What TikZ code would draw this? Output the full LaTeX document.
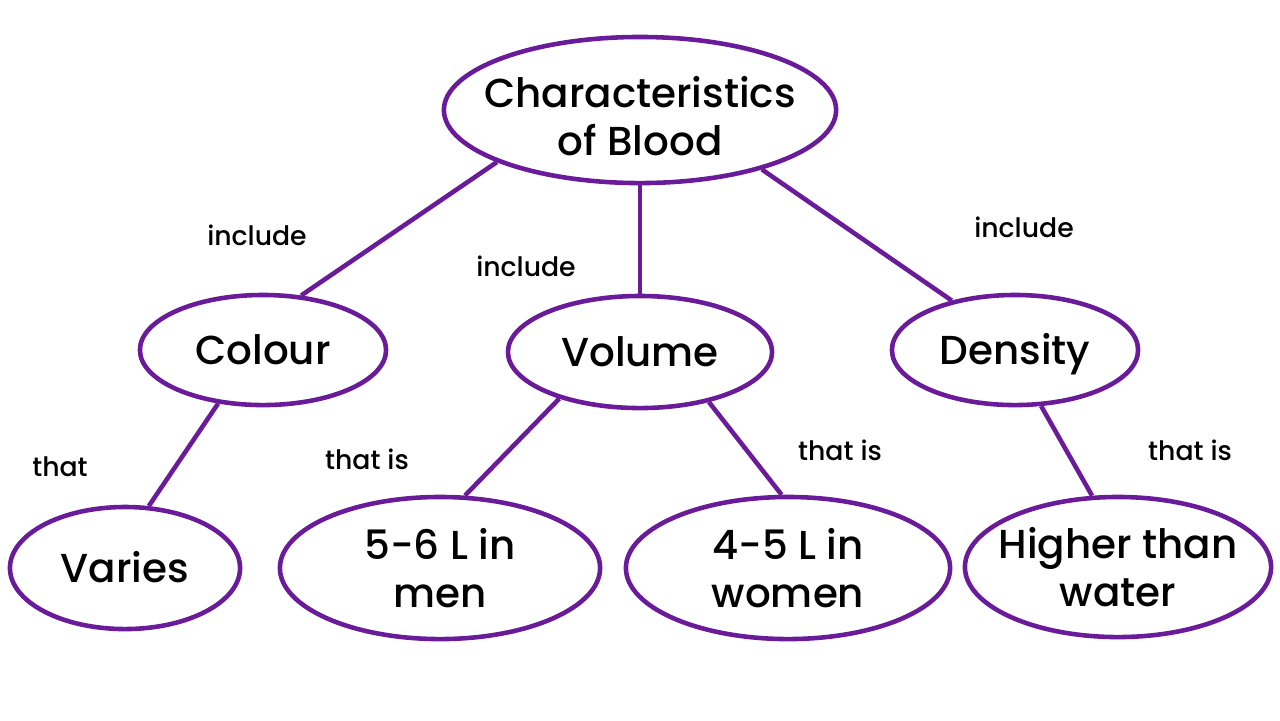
\documentclass[tikz,border=0pt]{standalone}
\usepackage{fontspec}
\setmainfont{Poppins}[BoldFont={Poppins Medium}]
\usetikzlibrary{shapes.geometric}
\definecolor{bloodpurple}{HTML}{6A1B9A}
\begin{document}
\begin{tikzpicture}[x=0.01cm, y=-0.01cm,
    blob/.style={draw=bloodpurple, line width=1.3pt, ellipse, inner sep=-1cm, align=center,
      font=\fontsize{11.5}{13.7}\selectfont\bfseries},
    oneline/.style={text height=8.1pt, text depth=0pt},
    link/.style={draw=bloodpurple, line width=1.3pt},
    word/.style={font=\fontsize{7.6}{9}\selectfont\bfseries}]
  \useasboundingbox[fill=white] (0, 0) rectangle (1280, 720);
  \node[blob, minimum width=3.92cm, minimum height=1.46cm] (blood) at (640, 110)
    {\raisebox{-1.8pt}[\height][\depth]{Characteristics}\\\raisebox{-1.8pt}[\height][\depth]{of Blood}};
  \node[blob, oneline, minimum width=2.46cm, minimum height=1.10cm] (colour) at (263, 350) {Colour};
  \node[blob, oneline, minimum width=2.64cm, minimum height=1.12cm] (volume) at (640, 352) {Volume};
  \node[blob, oneline, minimum width=2.46cm, minimum height=1.10cm] (density) at (1015, 350) {Density};
  \node[blob, oneline, minimum width=2.30cm, minimum height=1.22cm] (varies) at (125, 568) {Varies};
  \node[blob, minimum width=3.20cm, minimum height=1.42cm] (men) at (440, 568) {5-6 L in\\men};
  \node[blob, minimum width=3.24cm, minimum height=1.42cm] (women) at (788, 568) {4-5 L in\\women};
  \node[blob, minimum width=3.06cm, minimum height=1.40cm] (water) at (1118, 567) {Higher than\\water};
  \draw[link] (blood.200) -- (colour.55);
  \draw[link] (blood.south) -- (volume.north);
  \draw[link] (blood.334) -- (density.142);
  \draw[link] (colour.230) -- (varies.69);
  \draw[link] (volume.210) -- (men.71);
  \draw[link] (volume.324) -- (women.95);
  \draw[link] (density.295) -- (water.110);
  \node[word] (inclA) at (257, 235) {include};
  \node[word] (inclB) at (526, 266) {include};
  \node[word] (inclC) at (1024, 227) {include};
  \node[word] (thatA) at (60, 467) {that};
  \node[word] (thatB) at (367, 459) {that is};
  \node[word] (thatC) at (840, 450) {that is};
  \node[word] (thatD) at (1190, 450) {that is};
\end{tikzpicture}
\end{document}
